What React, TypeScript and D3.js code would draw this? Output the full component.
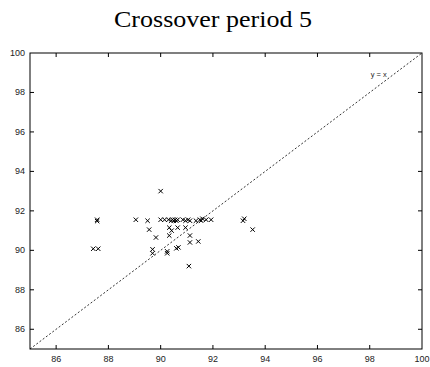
import React, { useEffect, useRef } from 'react';
import * as d3 from 'd3';

// x = period value, y = crossover value
const xValues = [
  87.42, 87.61, 87.57, 87.57, 89.05, 89.5, 89.56, 89.82, 89.69, 89.69,
  90.0, 90.0, 90.15, 90.3, 90.4, 90.45, 90.5, 90.55, 90.6, 90.65,
  90.33, 90.42, 90.65, 90.33, 90.25, 90.25, 90.6, 90.68, 90.85, 90.95,
  91.05, 91.12, 90.95, 91.12, 91.12, 91.44, 91.08, 91.35, 91.5, 91.55,
  91.6, 91.74, 91.93, 93.15, 93.2, 93.52,
];
const yValues = [
  90.08, 90.08, 91.55, 91.48, 91.55, 91.5, 91.05, 90.65, 90.05, 89.85,
  93.0, 91.55, 91.55, 91.55, 91.5, 91.55, 91.5, 91.55, 91.5, 91.55,
  91.15, 91.0, 91.15, 90.75, 89.95, 89.85, 90.1, 90.15, 91.55, 91.5,
  91.55, 91.5, 91.15, 90.75, 90.4, 90.45, 89.2, 91.5, 91.55, 91.5,
  91.6, 91.55, 91.55, 91.5, 91.6, 91.05,
];
const tickValues = [86, 88, 90, 92, 94, 96, 98, 100];
const domain: [number, number] = [85, 100];

const App: React.FC = () => {
  const svgRef = useRef<SVGSVGElement>(null);

  useEffect(() => {
    if (!svgRef.current) return;
    document.body.style.margin = '0';

    const svg = d3.select(svgRef.current);
    svg.selectAll('*').remove();

    const margin = { top: 53, right: 8, bottom: 18, left: 30 };
    const width = 430;
    const height = 367;

    const x = d3.scaleLinear().domain(domain).range([margin.left, width - margin.right]);
    const y = d3.scaleLinear().domain(domain).range([height - margin.bottom, margin.top]);

    // Title
    svg
      .append('text')
      .attr('x', 213)
      .attr('y', 27)
      .attr('text-anchor', 'middle')
      .attr('font-family', '"Liberation Serif", serif')
      .attr('font-size', 24)
      .attr('textLength', 198)
      .attr('lengthAdjust', 'spacingAndGlyphs')
      .attr('fill', '#000')
      .text('Crossover period 5');

    const plot = svg.append('g');

    // Frame
    plot
      .append('rect')
      .attr('x', x(85))
      .attr('y', y(100))
      .attr('width', x(100) - x(85))
      .attr('height', y(85) - y(100))
      .attr('fill', 'none')
      .attr('stroke', '#000')
      .attr('stroke-width', 1);

    const tickLen = 4;
    const inner = tickValues.filter(d => d < 100);

    // Inward ticks on all sides
    inner.forEach(t => {
      plot.append('line').attr('x1', x(t)).attr('x2', x(t)).attr('y1', y(85)).attr('y2', y(85) - tickLen).attr('stroke', '#000');
      plot.append('line').attr('x1', x(t)).attr('x2', x(t)).attr('y1', y(100)).attr('y2', y(100) + tickLen).attr('stroke', '#000');
      plot.append('line').attr('x1', x(85)).attr('x2', x(85) + tickLen).attr('y1', y(t)).attr('y2', y(t)).attr('stroke', '#000');
      plot.append('line').attr('x1', x(100)).attr('x2', x(100) - tickLen).attr('y1', y(t)).attr('y2', y(t)).attr('stroke', '#000');
    });

    // Tick labels
    const labelFont = '"Liberation Sans", Arial, sans-serif';
    plot
      .selectAll('.xlabel')
      .data(tickValues)
      .enter()
      .append('text')
      .attr('x', d => x(d))
      .attr('y', y(85) + 13)
      .attr('text-anchor', 'middle')
      .attr('font-family', labelFont)
      .attr('font-size', 9)
      .attr('fill', '#222')
      .text(d => d);

    plot
      .selectAll('.ylabel')
      .data(tickValues)
      .enter()
      .append('text')
      .attr('x', x(85) - 5)
      .attr('y', d => y(d) + 3)
      .attr('text-anchor', 'end')
      .attr('font-family', labelFont)
      .attr('font-size', 9)
      .attr('fill', '#222')
      .text(d => d);

    // y = x line
    plot
      .append('line')
      .attr('x1', x(85))
      .attr('y1', y(85))
      .attr('x2', x(100))
      .attr('y2', y(100))
      .attr('stroke', '#000')
      .attr('stroke-width', 0.8)
      .attr('stroke-dasharray', '2,2');

    plot
      .append('text')
      .attr('x', x(98.65))
      .attr('y', y(98.95) + 3)
      .attr('text-anchor', 'end')
      .attr('font-family', labelFont)
      .attr('font-size', 7.5)
      .attr('fill', '#222')
      .text('y = x');

    // Points as x markers
    const s = 2.2;
    const pts = xValues.map((v, i) => ({ px: v, py: yValues[i] }));
    plot
      .selectAll('.pt')
      .data(pts)
      .enter()
      .append('path')
      .attr('class', 'pt')
      .attr('d', d => {
        const cx = x(d.px);
        const cy = y(d.py);
        return `M${cx - s},${cy - s}L${cx + s},${cy + s}M${cx - s},${cy + s}L${cx + s},${cy - s}`;
      })
      .attr('stroke', '#000')
      .attr('stroke-width', 1)
      .attr('fill', 'none');
  }, []);

  return (
    <svg
      ref={svgRef}
      width={430}
      height={367}
      style={{ display: 'block', background: '#fff' }}
    ></svg>
  );
};

export default App;
